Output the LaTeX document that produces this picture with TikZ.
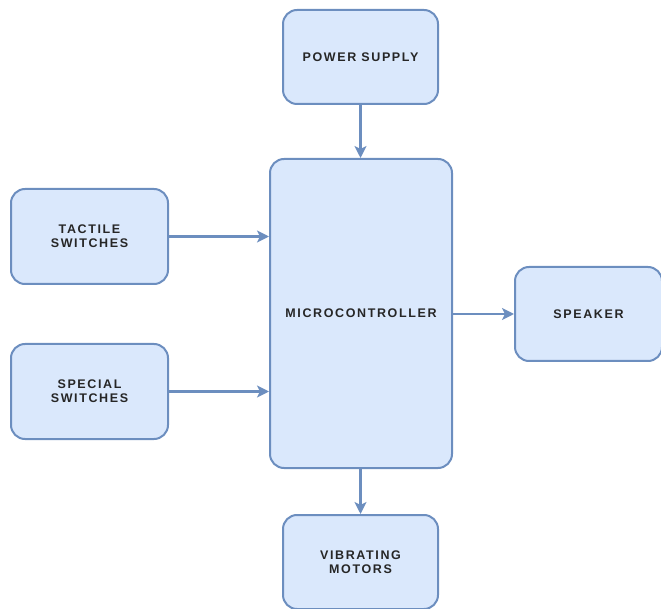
\documentclass[tikz,border=0pt]{standalone}
\usepackage{xcolor}
\definecolor{boxline}{HTML}{6C8EBF}
\definecolor{boxfill}{HTML}{DAE8FC}
\usepackage{fontspec}
\setmainfont{Liberation Sans}
\newfontfamily\blockfont{Liberation Sans}[UprightFont=* Bold, LetterSpace=13]
\usepackage{tikz}
\usetikzlibrary{positioning,arrows.meta}

\begin{document}
\begin{tikzpicture}[x=1pt, y=-1pt,
    block/.style={draw=boxline, fill=boxfill, line width=2pt, rounded corners=14pt,
      align=center, inner sep=0pt,
      font=\blockfont\fontsize{12.5}{14}\selectfont, text=black!85},
    link/.style={draw=boxline, line width=2.2pt, -{Stealth[length=12pt, width=12pt, inset=3pt]}}]
  \useasboundingbox (0,0) rectangle (661,609);
  \node[block, minimum width=155pt, minimum height=94pt] (power) at (360.5,57) {POWER SUPPLY};
  \node[block, minimum width=182pt, minimum height=309pt] (micro) at (361,313.5) {MICROCONTROLLER};
  \node[block, minimum width=157pt, minimum height=95pt] (tactile) at (89.5,236.5) {TACTILE\\SWITCHES};
  \node[block, minimum width=157pt, minimum height=95pt] (special) at (89.5,391.5) {SPECIAL\\SWITCHES};
  \node[block, minimum width=147pt, minimum height=94pt] (speaker) at (588.5,314) {SPEAKER};
  \node[block, minimum width=155pt, minimum height=94pt] (motors) at (360.5,562) {VIBRATING\\MOTORS};
  \draw[link] (power.south) -- (power.south |- micro.north);
  \draw[link] (tactile.east) -- (tactile.east -| micro.west);
  \draw[link] (special.east) -- (special.east -| micro.west);
  \draw[link] (micro.east |- speaker.west) -- (speaker.west);
  \draw[link] (micro.south -| motors.north) -- (motors.north);
\end{tikzpicture}
\end{document}
